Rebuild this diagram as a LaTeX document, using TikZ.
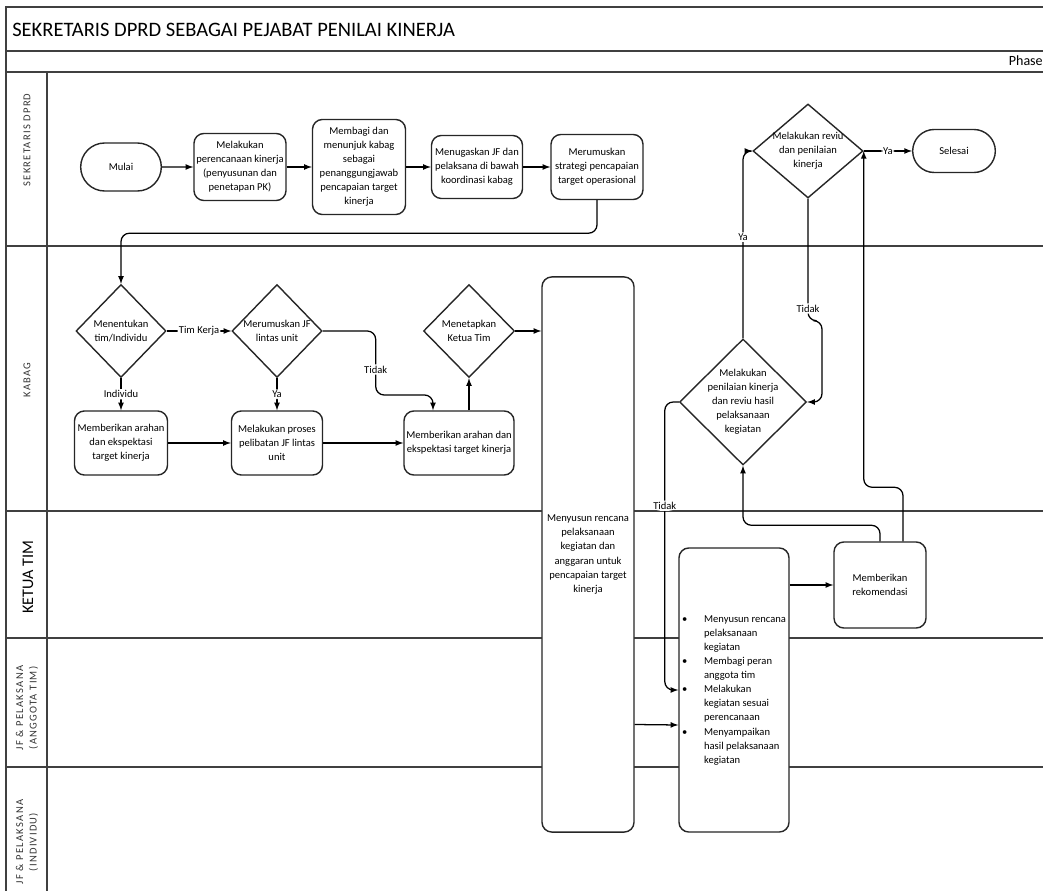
\documentclass[tikz,border=0pt]{standalone}
\usepackage{fontspec}
\setmainfont{Carlito}
\usetikzlibrary{shapes.geometric,shapes.misc,calc}

\begin{document}
\begin{tikzpicture}[x=0.025cm, y=-0.025cm, >=latex,
	proc/.style={draw=black!85, line width=1pt, rounded corners=7pt, fill=white, align=center, inner sep=1pt, font=\fontsize{7.5}{10}\selectfont},
	term/.style={draw=black!85, line width=1pt, rounded rectangle, fill=white, font=\fontsize{7.5}{10}\selectfont},
	decide/.style={draw=black!85, line width=1pt, diamond, fill=white, align=center, inner sep=-1cm, font=\fontsize{7.5}{10}\selectfont},
	lane/.style={draw=black!75, line width=1.4pt},
	lanetext/.style={rotate=90, align=center, text=black!80, font=\fontsize{7.5}{9.5}\selectfont\addfontfeature{LetterSpace=12}},
	lbl/.style={fill=white, inner sep=1pt, font=\fontsize{7.5}{9}\selectfont},
	flow/.style={->, line width=0.9pt, rounded corners=6pt}]
	\useasboundingbox (0,0) rectangle (1043,891);

	\draw [lane] (1043,7) -- (6,7) -- (6,891);
	\draw [lane] (6,51) -- (1043,51);
	\draw [lane] (6,72) -- (1043,72);
	\draw [lane] (47,72) -- (47,891);
	\draw [lane] (6,246) -- (1043,246);
	\draw [lane] (6,511) -- (1043,511);
	\draw [lane] (6,638) -- (1043,638);
	\draw [lane] (6,767) -- (1043,767);

	\node at (12,30) [anchor=west, inner sep=0pt, font=\fontsize{14.6}{17}\selectfont] (judul) {SEKRETARIS DPRD SEBAGAI PEJABAT PENILAI KINERJA};
	\node at (1043,61) [anchor=east, inner sep=0pt, font=\fontsize{10}{12}\selectfont] (fase) {Phase};

	\node at (27,140) [lanetext] (l1) {SEKRETARIS DPRD};
	\node at (27,380) [lanetext] (l2) {KABAG};
	\node at (28,577) [lanetext, text=black, font=\fontsize{11.5}{13}\selectfont] (l3) {KETUA TIM};
	\node at (27,708) [lanetext] (l4) {JF \& PELAKSANA\\(ANGGOTA TIM)};
	\node at (27,842) [lanetext] (l5) {JF \& PELAKSANA\\(INDIVIDU)};

	\node at (121,167) [term, minimum width=2.25cm, minimum height=1.2cm] (mulai) {Mulai};
	\node at (240,167) [proc, minimum width=2.3cm, minimum height=1.675cm] (rencana) {Melakukan\\perencanaan kinerja\\(penyusunan dan\\penetapan PK)};
	\node at (359,167) [proc, minimum width=2.325cm, minimum height=2.375cm] (bagi) {Membagi dan\\menunjuk kabag\\sebagai\\penanggungjawab\\pencapaian target\\kinerja};
	\node at (477,167) [proc, minimum width=2.275cm, minimum height=1.575cm] (tugas) {Menugaskan JF dan\\pelaksana di bawah\\koordinasi kabag};
	\node at (597,167) [proc, minimum width=2.3cm, minimum height=1.625cm] (strategi) {Merumuskan\\strategi pencapaian\\target operasional};
	\node at (808,151) [decide, minimum width=2.75cm, minimum height=2.35cm] (reviu) {Melakukan reviu\\dan penilaian\\kinerja};
	\node at (954,151) [term, minimum width=2.3cm, minimum height=1.075cm] (selesai) {Selesai};

	\node at (121,331) [decide, minimum width=2.25cm, minimum height=2.325cm] (tentukan) {Menentukan\\tim/Individu};
	\node at (277,331) [decide, minimum width=2.25cm, minimum height=2.325cm] (jflintas) {Merumuskan JF\\lintas unit};
	\node at (121,443) [proc, minimum width=2.325cm, minimum height=1.6cm] (arahan1) {Memberikan arahan\\dan ekspektasi\\target kinerja};
	\node at (277,443) [proc, minimum width=2.275cm, minimum height=1.6cm] (libat) {Melakukan proses\\pelibatan JF lintas\\unit};
	\node at (459,443) [proc, minimum width=2.75cm, minimum height=1.6cm] (arahan2) {Memberikan arahan dan\\ekspektasi target kinerja};
	\node at (469,331) [decide, minimum width=2.275cm, minimum height=2.325cm] (tetap) {Menetapkan\\Ketua Tim};
	\node at (588,554.5) [proc, minimum width=2.3cm, minimum height=13.875cm] (susun) {Menyusun rencana\\pelaksanaan\\kegiatan dan\\anggaran untuk\\pencapaian target\\kinerja};
	\node at (743,402) [decide, minimum width=3.175cm, minimum height=3.15cm] (nilai) {Melakukan\\penilaian kinerja\\dan reviu hasil\\pelaksanaan\\kegiatan};
	\node at (734,690) [proc, minimum width=2.75cm, minimum height=7.1cm] (lapor) {\begin{tabular}{@{}l@{\hspace{12pt}}l@{}}
		\textbullet & Menyusun rencana\\ & pelaksanaan\\ & kegiatan\\
		\textbullet & Membagi peran\\ & anggota tim\\
		\textbullet & Melakukan\\ & kegiatan sesuai\\ & perencanaan\\
		\textbullet & Menyampaikan\\ & hasil pelaksanaan\\ & kegiatan
	\end{tabular}};
	\node at (880,585) [proc, minimum width=2.3cm, minimum height=2.15cm] (rekom) {Memberikan\\rekomendasi};

	\draw [flow] (mulai) -- (rencana);
	\draw [flow] (rencana) -- (bagi);
	\draw [flow] (bagi) -- (tugas);
	\draw [flow] (tugas) -- (strategi);
	\draw [flow] (strategi.south) -- ++(0,33) -| (tentukan.north);
	\draw [flow] (reviu) -- (selesai) node[midway, lbl] {Ya};

	\draw [flow] (tentukan) -- (jflintas) node[midway, lbl] {Tim Kerja};
	\draw [flow] (tentukan) -- (arahan1) node[midway, lbl] {Individu};
	\draw [flow] (jflintas) -- (libat) node[midway, lbl] {Ya};
	\draw [flow] (arahan1) -- (libat);
	\draw [flow] (libat) -- (arahan2);
	\draw [flow] (jflintas.east) -- ++(53,0) -- ++(0,64) node[pos=0.6, lbl] {Tidak} -| ($(arahan2.north)+(-26,0)$);
	\draw [flow] (tetap.south |- arahan2.north) -- (tetap.south);
	\draw [flow] (tetap.east) -- (tetap.east -| susun.west);

	\draw [flow] ($(susun.east)+(0,170)$) -- ($(lapor.west)+(0,35)$);
	\draw [flow] (lapor.east |- rekom.west) -- (rekom.west);
	\draw [flow] (rekom.north) -- ++(0,-16) -| (nilai.south);
	\draw [flow] ($(rekom.north)+(23,0)$) -- ++(0,-54) -| (reviu.east);
	\draw [flow] (nilai.north) |- (reviu.west) node[pos=0.27, lbl] {Ya};
	\draw [flow] (reviu.south) -- ++(0,122) node[pos=0.9, lbl] {Tidak} -- ++(14,0) |- (nilai.east);
	\draw [flow] (nilai.west) -- ++(-14,0) |- (lapor.west) node[pos=0.18, lbl] {Tidak};
\end{tikzpicture}
\end{document}
